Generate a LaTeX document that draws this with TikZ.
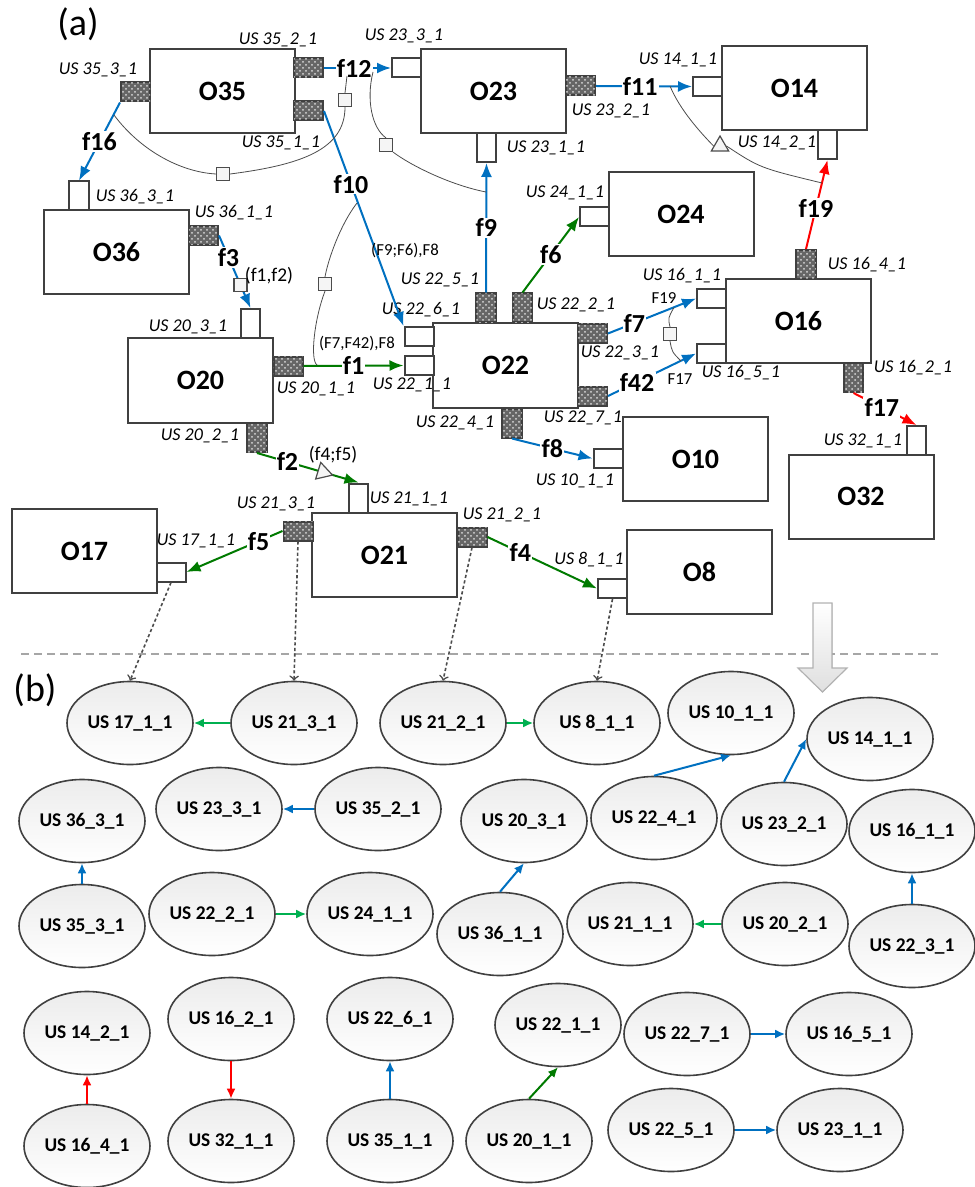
\documentclass[tikz,border=0pt]{standalone}
\usepackage{fontspec}
\setmainfont{Carlito}
\usetikzlibrary{shapes.geometric,patterns,arrows.meta}
\definecolor{flowblue}{HTML}{0070C0}
\definecolor{flowgreen}{HTML}{007A00}
\definecolor{lightgreen}{HTML}{00B050}
\definecolor{flowred}{HTML}{FF0000}
\definecolor{boxgray}{HTML}{404040}

\begin{document}
\begin{tikzpicture}[x=0.5pt, y=-0.5pt,
    box/.style={draw=boxgray, line width=1pt, fill=white, minimum width=72.5pt, minimum height=42pt, inner sep=0pt, font=\fontsize{14}{16}\selectfont\bfseries},
    outh/.style={draw=boxgray, line width=1pt, fill=black!60, postaction={pattern=crosshatch dots, pattern color=white!85!black}, minimum width=14.5pt, minimum height=9.5pt, inner sep=0pt},
    outv/.style={outh, minimum width=9.75pt, minimum height=14.5pt},
    inh/.style={draw=boxgray, line width=1pt, fill=white, minimum width=14.5pt, minimum height=9.5pt, inner sep=0pt},
    inv/.style={inh, minimum width=9.75pt, minimum height=14.5pt},
    uslab/.style={inner sep=0pt, font=\fontsize{9}{10}\selectfont\itshape},
    flab/.style={fill=white, text=black, inner sep=0.6pt, font=\fontsize{13}{14}\selectfont\bfseries},
    note/.style={inner sep=0pt, font=\fontsize{8.4}{9}\selectfont},
    sq/.style={draw=black!70, fill=gray!8, minimum size=6.5pt, inner sep=0pt, line width=0.6pt},
    tri/.style={regular polygon, regular polygon sides=3, draw=black!70, fill=gray!8, minimum size=10pt, inner sep=0pt, line width=0.6pt},
    dep/.style={black!70, line width=0.4pt},
    us/.style={ellipse, draw=black!75, line width=0.8pt, top color=gray!15, bottom color=white, minimum width=63pt, minimum height=41.5pt, inner sep=0pt, font=\fontsize{9.7}{10}\selectfont\bfseries},
    bigtip/.style={-{Latex[length=7pt, width=5.5pt]}},
    smalltip/.style={-{Latex[length=5pt, width=4.5pt]}},
    blueflow/.style={bigtip, line width=1pt, flowblue},
    greenflow/.style={bigtip, line width=1pt, flowgreen},
    redflow/.style={bigtip, line width=1pt, flowred},
    bluelink/.style={smalltip, line width=1pt, flowblue},
    greenlink/.style={smalltip, line width=1pt, flowgreen},
    lgreenlink/.style={smalltip, line width=1pt, lightgreen},
    redlink/.style={smalltip, line width=1pt, flowred},
    dots/.style={-to, black!70, line width=0.8pt, dash pattern=on 1.6pt off 1.2pt},
  ]
  \useasboundingbox (0,0) rectangle (974,1187);

  \node[font=\fontsize{19}{20}\selectfont] (pa) at (78,24) {(a)};
  \node[font=\fontsize{19}{20}\selectfont] (pb) at (35,690) {(b)};

  \node[box] (O35) at (222.5,91.5) {O35};
  \node[box] (O23) at (493.5,91.5) {O23};
  \node[box] (O14) at (794.5,88)   {O14};
  \node[box] (O24) at (681,214)    {O24};
  \node[box] (O36) at (116.5,252)  {O36};
  \node[box] (O20) at (200.5,380.5) {O20};
  \node[box] (O22) at (505.5,365.5) {O22};
  \node[box] (O16) at (798.5,321)  {O16};
  \node[box] (O10) at (695.5,459)  {O10};
  \node[box] (O32) at (861,496.5)  {O32};
  \node[box] (O8)  at (699.5,572)  {O8};
  \node[box] (O21) at (384.5,555)  {O21};
  \node[box] (O17) at (84.5,551)   {O17};

  \node[outh] (p35_3) at (135.5,92)  {};
  \node[outh] (p35_2) at (308.5,68)  {};
  \node[outh] (p35_1) at (308.5,111) {};
  \node[inh]  (p23_3) at (406.5,68)  {};
  \node[outh] (p23_2) at (580.5,86)  {};
  \node[inv]  (p23_1) at (486.5,147.5) {};
  \node[inh]  (p14_1) at (707.5,86.5) {};
  \node[inv]  (p14_2) at (827.5,144.5) {};
  \node[inh]  (p24_1) at (594.5,217) {};
  \node[inv]  (p36_3) at (79,196)    {};
  \node[outh] (p36_1) at (203.5,235.5) {};
  \node[inv]  (p20_3) at (250.5,323.5) {};
  \node[outh] (p20_1) at (288,366)   {};
  \node[outv] (p20_2) at (257,437.5) {};
  \node[inh]  (p22_6) at (419,336.5) {};
  \node[inh]  (p22_1) at (419,365.5) {};
  \node[outv] (p22_5) at (486,308)   {};
  \node[outv] (p22_2) at (522.5,308) {};
  \node[outh] (p22_3) at (592.5,333.5) {};
  \node[outh] (p22_7) at (592.5,396) {};
  \node[outv] (p22_4) at (512,423)   {};
  \node[inh]  (p16_1) at (711.5,298.5) {};
  \node[inh]  (p16_5) at (711.5,353.5) {};
  \node[outv] (p16_4) at (806,264.5) {};
  \node[outv] (p16_2) at (853.5,377.5) {};
  \node[inh]  (p10_1) at (608,458.5) {};
  \node[inv]  (p32_1) at (916.5,440.5) {};
  \node[inh]  (p8_1)  at (612.5,588.5) {};
  \node[inv]  (p21_1) at (358.5,498) {};
  \node[outh] (p21_3) at (298,531)   {};
  \node[outh] (p21_2) at (472,537)   {};
  \node[inh]  (p17_1) at (171,572)   {};

  \node[uslab] (l35_3) at (98,70)    {US 35\_3\_1};
  \node[uslab] (l35_2) at (278,40)   {US 35\_2\_1};
  \node[uslab] (l35_1) at (281,143)  {US 35\_1\_1};
  \node[uslab] (l23_3) at (404,36)   {US 23\_3\_1};
  \node[uslab] (l23_2) at (611,111)  {US 23\_2\_1};
  \node[uslab] (l23_1) at (546,148)  {US 23\_1\_1};
  \node[uslab] (l14_1) at (678,60)   {US 14\_1\_1};
  \node[uslab] (l14_2) at (777,143)  {US 14\_2\_1};
  \node[uslab] (l24_1) at (565,193)  {US 24\_1\_1};
  \node[uslab] (l36_3) at (135,197)  {US 36\_3\_1};
  \node[uslab] (l36_1) at (234,213)  {US 36\_1\_1};
  \node[uslab] (l20_3) at (188,327)  {US 20\_3\_1};
  \node[uslab] (l20_1) at (316,389)  {US 20\_1\_1};
  \node[uslab] (l20_2) at (200,436)  {US 20\_2\_1};
  \node[uslab] (l22_1) at (412,385)  {US 22\_1\_1};
  \node[uslab] (l22_6) at (421,310)  {US 22\_6\_1};
  \node[uslab] (l22_5) at (440,280)  {US 22\_5\_1};
  \node[uslab] (l22_2) at (576,305)  {US 22\_2\_1};
  \node[uslab] (l22_3) at (620,353)  {US 22\_3\_1};
  \node[uslab] (l22_7) at (583,418)  {US 22\_7\_1};
  \node[uslab] (l22_4) at (455,423)  {US 22\_4\_1};
  \node[uslab] (l16_1) at (682,276)  {US 16\_1\_1};
  \node[uslab] (l16_4) at (867,265)  {US 16\_4\_1};
  \node[uslab] (l16_5) at (741,373)  {US 16\_5\_1};
  \node[uslab] (l16_2) at (913,368)  {US 16\_2\_1};
  \node[uslab] (l10_1) at (575,481)  {US 10\_1\_1};
  \node[uslab] (l32_1) at (863,441)  {US 32\_1\_1};
  \node[uslab] (l8_1)  at (589,560)  {US 8\_1\_1};
  \node[uslab] (l21_2) at (502,515)  {US 21\_2\_1};
  \node[uslab] (l21_3) at (276,504)  {US 21\_3\_1};
  \node[uslab] (l21_1) at (409,499)  {US 21\_1\_1};
  \node[uslab] (l17_1) at (196,541)  {US 17\_1\_1};

  \coordinate (k1a) at (114,115);
  \coordinate (k1b) at (347,76);
  \coordinate (k2a) at (373,72);
  \coordinate (k2b) at (486,192);
  \coordinate (k3a) at (670,86);
  \coordinate (k3b) at (822,183);
  \coordinate (k4a) at (357,203);
  \coordinate (k4b) at (317,365);
  \coordinate (k5a) at (674,307.5);
  \coordinate (k5b) at (681,361);

  \draw[blueflow] (p35_3.south west) -- node[flab] (nf16) {f16} (p36_3.north);
  \draw[blueflow] (p35_2.east) -- node[flab, pos=0.45] (nf12) {f12} (p23_3.west);
  \draw[blueflow] (p35_1.east) -- node[flab, pos=0.34] (nf10) {f10} (p22_6.north west);
  \draw[blueflow] (p23_2.east) -- node[flab, pos=0.46] (nf11) {f11} (p14_1.west);
  \draw[blueflow] (p22_5.north) -- node[flab] (nf9) {f9} (p23_1.south);
  \draw[greenflow] (p22_2.north) -- node[flab] (nf6) {f6} (p24_1.west);
  \draw[redflow] (p16_4.north) -- node[flab, pos=0.46] (nf19) {f19} (p14_2.south);
  \draw[blueflow] (p36_1.east) -- node[flab, pos=0.3] (nf3) {f3} node[sq, pos=0.68] (sq3) {} (p20_3.north);
  \draw[greenflow] (p20_1.east) -- node[flab] (nf1) {f1} (p22_1.west);
  \draw[greenflow] (p20_2.south) -- node[flab, pos=0.3] (nf2) {f2} node[tri, pos=0.65, shape border rotate=-107] (tr2) {} (p21_1.north);
  \draw[greenflow] (p21_3.west) -- node[flab, pos=0.25] (nf5) {f5} (p17_1.east);
  \draw[greenflow] (p21_2.east) -- node[flab, pos=0.3] (nf4) {f4} (p8_1.west);
  \draw[blueflow] (p22_4.south) -- node[flab] (nf8) {f8} (p10_1.west);
  \draw[blueflow] (p22_3.east) -- node[flab, pos=0.3] (nf7) {f7} (p16_1.west);
  \draw[blueflow] (p22_7.east) -- node[flab, pos=0.33] (nf42) {f42} (p16_5.west);
  \draw[redflow] (p16_2.south) -- node[flab, pos=0.45] (nf17) {f17} (p32_1.north);

  \node[sq] (sqA) at (223,174) {};
  \node[sq] (sqB) at (345,100) {};
  \node[sq] (sqC) at (386,145) {};
  \node[sq] (sqD) at (325,284) {};
  \node[sq] (sqE) at (670,334) {};
  \node[tri] (tr3) at (720,146) {};

  \draw[dep] (k1a) .. controls (140,150) and (180,172) .. (sqA.west);
  \draw[dep] (sqA.east) .. controls (300,165) and (345,150) .. (sqB.south);
  \draw[dep] (sqB.north) -- (k1b);
  \draw[dep] (k2a) .. controls (366,100) and (372,128) .. (sqC.north);
  \draw[dep] (sqC.south east) .. controls (410,165) and (450,185) .. (k2b);
  \draw[dep] (k3a) .. controls (680,110) and (700,132) .. (tr3.west);
  \draw[dep] (tr3.east) .. controls (760,168) .. (k3b);
  \draw[dep] (k4a) .. controls (340,225) and (328,260) .. (sqD.north);
  \draw[dep] (sqD.south) .. controls (314,320) and (310,360) .. (k4b);
  \draw[dep] (k5a) .. controls (668,318) .. (sqE.north);
  \draw[dep] (sqE.south) .. controls (672,352) .. (k5b);

  \node[note] (n1) at (405,251) {(F9;F6),F8};
  \node[note] (n2) at (357,344) {(F7,F42),F8};
  \node[note, font=\fontsize{9.7}{10}\selectfont] (n3) at (269,276) {(f1,f2)};
  \node[note, font=\fontsize{9.7}{10}\selectfont] (n4) at (333,455) {(f4;f5)};
  \node[note] (n5) at (664,298) {F19};
  \node[note] (n6) at (680,379) {F17};

  \coordinate (sepL) at (21,654);
  \coordinate (sepR) at (938,654);
  \draw[gray!70, line width=0.6pt, dash pattern=on 4pt off 2.5pt] (sepL) -- (sepR);

  \filldraw[draw=gray!60, top color=white, bottom color=gray!25, line width=0.6pt]
    (813,603) -- (832,603) -- (832,668) -- (847,668) -- (822.5,692) -- (798,668) -- (813,668) -- cycle;

  \node[us] (e17_1) at (130,723) {US 17\_1\_1};
  \node[us] (e21_3) at (294,723) {US 21\_3\_1};
  \node[us] (e21_2) at (443,723) {US 21\_2\_1};
  \node[us] (e8_1)  at (597,723) {US 8\_1\_1};
  \node[us] (e10_1) at (731,713) {US 10\_1\_1};
  \node[us] (e14_1) at (870,739) {US 14\_1\_1};
  \node[us] (e36_3) at (82,821)  {US 36\_3\_1};
  \node[us] (e23_3) at (219,809) {US 23\_3\_1};
  \node[us] (e35_2) at (378,809) {US 35\_2\_1};
  \node[us] (e20_3) at (524,821) {US 20\_3\_1};
  \node[us] (e22_4) at (654,818) {US 22\_4\_1};
  \node[us] (e23_2) at (784,824) {US 23\_2\_1};
  \node[us] (e16_1) at (912,831) {US 16\_1\_1};
  \node[us] (e35_3) at (82,926)  {US 35\_3\_1};
  \node[us] (e22_2) at (212,914) {US 22\_2\_1};
  \node[us] (e24_1) at (370,914) {US 24\_1\_1};
  \node[us] (e36_1) at (500,934) {US 36\_1\_1};
  \node[us] (e21_1) at (630,924) {US 21\_1\_1};
  \node[us] (e20_2) at (785,924) {US 20\_2\_1};
  \node[us] (e22_3) at (912,946) {US 22\_3\_1};
  \node[us] (e14_2) at (87,1033) {US 14\_2\_1};
  \node[us] (e16_2) at (231,1019) {US 16\_2\_1};
  \node[us] (e22_6) at (390,1019) {US 22\_6\_1};
  \node[us] (e22_1) at (558,1025) {US 22\_1\_1};
  \node[us] (e22_7) at (687,1034) {US 22\_7\_1};
  \node[us] (e16_5) at (849,1034) {US 16\_5\_1};
  \node[us] (e16_4) at (87,1146) {US 16\_4\_1};
  \node[us] (e32_1) at (231,1141) {US 32\_1\_1};
  \node[us] (e35_1) at (390,1141) {US 35\_1\_1};
  \node[us] (e20_1) at (529,1141) {US 20\_1\_1};
  \node[us] (e22_5) at (671,1130) {US 22\_5\_1};
  \node[us] (e23_1) at (840,1130) {US 23\_1\_1};

  \draw[dots] (p17_1.south) -- (e17_1.north);
  \draw[dots] (p21_3.south) -- (e21_3.north);
  \draw[dots] (p21_2.south) -- (e21_2.north);
  \draw[dots] (p8_1.south) -- (e8_1.north);

  \draw[lgreenlink] (e21_3) -- (e17_1);
  \draw[lgreenlink] (e21_2) -- (e8_1);
  \draw[bluelink] (e22_4.north) -- (e10_1.south);
  \draw[bluelink] (e23_2.north) -- (e14_1.west);
  \draw[bluelink] (e35_2) -- (e23_3);
  \draw[bluelink] (e35_3) -- (e36_3);
  \draw[lgreenlink] (e22_2) -- (e24_1);
  \draw[bluelink] (e36_1.north) -- (e20_3.south);
  \draw[lgreenlink] (e20_2) -- (e21_1);
  \draw[bluelink] (e22_3) -- (e16_1);
  \draw[redlink] (e16_4) -- (e14_2);
  \draw[redlink] (e16_2) -- (e32_1);
  \draw[bluelink] (e35_1) -- (e22_6);
  \draw[greenlink] (e20_1.north) -- (e22_1.south);
  \draw[bluelink] (e22_7) -- (e16_5);
  \draw[bluelink] (e22_5) -- (e23_1);
\end{tikzpicture}
\end{document}
